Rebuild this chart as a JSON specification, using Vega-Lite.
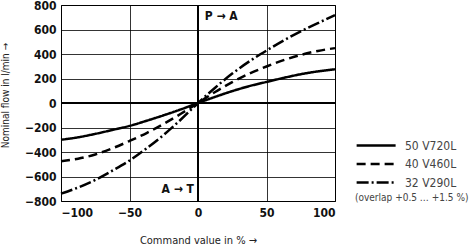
{
  "$schema": "https://vega.github.io/schema/vega-lite/v6.json",
  "width": 274,
  "height": 196,
  "autosize": "none",
  "padding": {"left": 61, "top": 5, "right": 138, "bottom": 49},
  "background": "white",
  "config": {
    "view": {"stroke": "black", "strokeWidth": 1},
    "font": "DejaVu Sans Condensed",
    "axis": {
      "grid": true, "gridColor": "black", "gridOpacity": 1, "gridWidth": 0.8,
      "domain": false, "ticks": false, "labelOverlap": false,
      "labelFont": "DejaVu Sans Condensed", "labelFontWeight": "bold", "labelFontSize": 12, "labelColor": "#111",
      "titleFont": "DejaVu Sans Condensed", "titleFontWeight": "normal", "titleFontSize": 11, "titleColor": "#222"
    }
  },
  "datasets": {
    "curves": [
      {"x": -100, "y": -300, "s": "50 V720L"}, {"x": -87.5, "y": -280, "s": "50 V720L"}, {"x": -75, "y": -252, "s": "50 V720L"}, {"x": -62.5, "y": -220, "s": "50 V720L"}, {"x": -50, "y": -187, "s": "50 V720L"}, {"x": -37.5, "y": -145, "s": "50 V720L"}, {"x": -25, "y": -100, "s": "50 V720L"}, {"x": -12.5, "y": -52, "s": "50 V720L"}, {"x": 0, "y": 0, "s": "50 V720L"}, {"x": 12.5, "y": 50, "s": "50 V720L"}, {"x": 25, "y": 97, "s": "50 V720L"}, {"x": 37.5, "y": 138, "s": "50 V720L"}, {"x": 50, "y": 172, "s": "50 V720L"}, {"x": 62.5, "y": 205, "s": "50 V720L"}, {"x": 75, "y": 235, "s": "50 V720L"}, {"x": 87.5, "y": 258, "s": "50 V720L"}, {"x": 100, "y": 275, "s": "50 V720L"},
      {"x": -100, "y": -475, "s": "40 V460L"}, {"x": -87.5, "y": -455, "s": "40 V460L"}, {"x": -75, "y": -420, "s": "40 V460L"}, {"x": -62.5, "y": -370, "s": "40 V460L"}, {"x": -50, "y": -310, "s": "40 V460L"}, {"x": -37.5, "y": -245, "s": "40 V460L"}, {"x": -25, "y": -170, "s": "40 V460L"}, {"x": -12.5, "y": -88, "s": "40 V460L"}, {"x": 0, "y": 0, "s": "40 V460L"}, {"x": 12.5, "y": 90, "s": "40 V460L"}, {"x": 25, "y": 170, "s": "40 V460L"}, {"x": 37.5, "y": 240, "s": "40 V460L"}, {"x": 50, "y": 298, "s": "40 V460L"}, {"x": 62.5, "y": 350, "s": "40 V460L"}, {"x": 75, "y": 392, "s": "40 V460L"}, {"x": 87.5, "y": 425, "s": "40 V460L"}, {"x": 100, "y": 448, "s": "40 V460L"},
      {"x": -100, "y": -740, "s": "32 V290L"}, {"x": -87.5, "y": -690, "s": "32 V290L"}, {"x": -75, "y": -628, "s": "32 V290L"}, {"x": -62.5, "y": -552, "s": "32 V290L"}, {"x": -50, "y": -470, "s": "32 V290L"}, {"x": -37.5, "y": -370, "s": "32 V290L"}, {"x": -25, "y": -260, "s": "32 V290L"}, {"x": -12.5, "y": -135, "s": "32 V290L"}, {"x": 0, "y": 0, "s": "32 V290L"}, {"x": 12.5, "y": 125, "s": "32 V290L"}, {"x": 25, "y": 240, "s": "32 V290L"}, {"x": 37.5, "y": 340, "s": "32 V290L"}, {"x": 50, "y": 428, "s": "32 V290L"}, {"x": 62.5, "y": 510, "s": "32 V290L"}, {"x": 75, "y": 585, "s": "32 V290L"}, {"x": 87.5, "y": 652, "s": "32 V290L"}, {"x": 100, "y": 718, "s": "32 V290L"}
    ],
    "notesL": [{"x": 5, "y": 710, "label": "P → A"}],
    "notesR": [{"x": -3, "y": -700, "label": "A → T"}]
  },
  "layer": [
    {
      "data": {"name": "curves"},
      "mark": {"type": "line", "color": "black", "strokeWidth": 2.5, "interpolate": "monotone"},
      "encoding": {
        "x": {"field": "x", "type": "quantitative", "scale": {"domain": [-100, 100]},
          "axis": {"values": [-100, -50, 0, 50, 100], "title": "Command value in % →", "labelPadding": 6, "titlePadding": 16}},
        "y": {"field": "y", "type": "quantitative", "scale": {"domain": [-800, 800]},
          "axis": {"values": [-800, -600, -400, -200, 0, 200, 400, 600, 800], "title": "Nominal flow in l/min →", "labelPadding": 5, "titlePadding": 14, "titleFontSize": 10, "titleY": 90}},
        "strokeDash": {
          "field": "s", "type": "nominal",
          "scale": {"domain": ["50 V720L", "40 V460L", "32 V290L"], "range": [[1, 0], [9, 5], [12, 3, 2, 3]]},
          "legend": {
            "orient": "none", "legendX": 294, "legendY": 134,
            "symbolType": "M-1,0H7", "symbolSize": 95, "symbolStrokeWidth": 2.5, "symbolStrokeColor": "black",
            "labelOffset": 37, "rowPadding": 5.5,
            "labelFontSize": 12, "labelColor": "#444", "labelFont": "DejaVu Sans Condensed",
            "title": "(overlap +0.5 … +1.5 %)", "titleOrient": "bottom", "titleFontWeight": "normal",
            "titleFontSize": 10, "titleColor": "#444", "titleFont": "DejaVu Sans Condensed", "titlePadding": 4
          }
        }
      }
    },
    {
      "data": {"name": "curves"},
      "mark": {"type": "rule", "color": "black", "strokeWidth": 2},
      "encoding": {"y": {"datum": 0, "type": "quantitative",
        "axis": {"values": [-800, -600, -400, -200, 0, 200, 400, 600, 800], "title": "Nominal flow in l/min →", "labelPadding": 5, "titlePadding": 14, "titleFontSize": 10, "titleY": 90}}}
    },
    {
      "data": {"name": "curves"},
      "mark": {"type": "rule", "color": "black", "strokeWidth": 2},
      "encoding": {"x": {"datum": 0, "type": "quantitative",
        "axis": {"values": [-100, -50, 0, 50, 100], "title": "Command value in % →", "labelPadding": 6, "titlePadding": 16}}}
    },
    {
      "data": {"name": "notesL"},
      "mark": {"type": "text", "fontWeight": "bold", "fontSize": 12, "font": "DejaVu Sans Condensed", "color": "#111", "align": "left"},
      "encoding": {
        "x": {"field": "x", "type": "quantitative",
          "axis": {"values": [-100, -50, 0, 50, 100], "title": "Command value in % →", "labelPadding": 6, "titlePadding": 16}},
        "y": {"field": "y", "type": "quantitative",
          "axis": {"values": [-800, -600, -400, -200, 0, 200, 400, 600, 800], "title": "Nominal flow in l/min →", "labelPadding": 5, "titlePadding": 14, "titleFontSize": 10, "titleY": 90}},
        "text": {"field": "label"}
      }
    },
    {
      "data": {"name": "notesR"},
      "mark": {"type": "text", "fontWeight": "bold", "fontSize": 12, "font": "DejaVu Sans Condensed", "color": "#111", "align": "right"},
      "encoding": {
        "x": {"field": "x", "type": "quantitative",
          "axis": {"values": [-100, -50, 0, 50, 100], "title": "Command value in % →", "labelPadding": 6, "titlePadding": 16}},
        "y": {"field": "y", "type": "quantitative",
          "axis": {"values": [-800, -600, -400, -200, 0, 200, 400, 600, 800], "title": "Nominal flow in l/min →", "labelPadding": 5, "titlePadding": 14, "titleFontSize": 10, "titleY": 90}},
        "text": {"field": "label"}
      }
    }
  ]
}
